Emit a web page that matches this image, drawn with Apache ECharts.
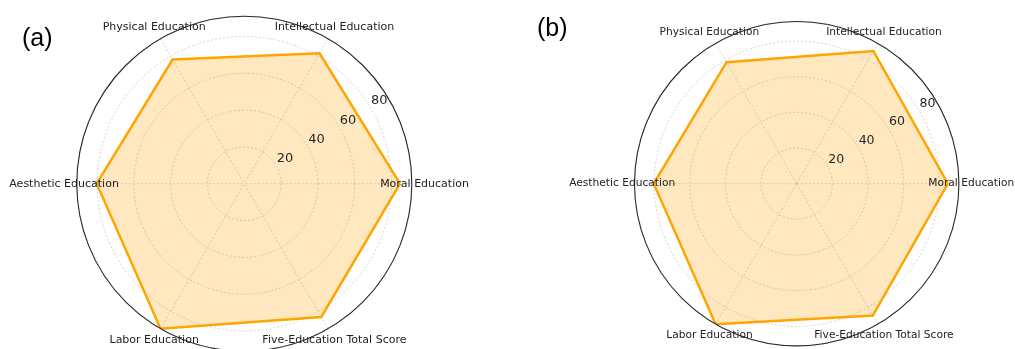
<!DOCTYPE html>
<html>
<head>
<meta charset="utf-8">
<script src="https://cdn.jsdelivr.net/npm/echarts@6/dist/echarts.min.js"></script>
<style>
  html, body { margin: 0; padding: 0; background: #fff; }
  #chart { width: 1015px; height: 349px; }
</style>
</head>
<body>
<div id="chart"></div>
<script>
// Five-education scores, one axis per dimension (counter-clockwise from the right)
const categories = [
  'Moral Education',
  'Intellectual Education',
  'Physical Education',
  'Aesthetic Education',
  'Labor Education',
  'Five-Education Total Score'
];
const scoresA = [84.6, 81.8, 77.9, 80.2, 91.0, 83.6];
const scoresB = [84.8, 86.0, 78.7, 80.2, 91.0, 85.4];
const radiusTicks = [20, 40, 60, 80];
const panelLabels = ['(a)', '(b)'];
const radiusMax = 91;

const step = 360 / categories.length;
const ORANGE = '#FFA500';
const GRID = 'rgba(150,150,150,0.5)';
const FONT = 'DejaVu Sans';

// closed polygon: [radius, angle] pairs, first point repeated at 360°
function loop(values) {
  const pts = values.map((v, i) => [v, i * step]);
  pts.push([values[0], 360]);
  return pts;
}

// one panel = a gridded polar system + a label-only polar whose radius axis sits at ~31.5°
function panel(cx, cy, r, fs) {
  const labelAngle = 31.5;
  const shift = r * 0.066;
  const rad = labelAngle * Math.PI / 180;
  return {
    polars: [
      { center: [cx, cy], radius: r },
      { center: [cx + shift * Math.cos(rad), cy - shift * Math.sin(rad)], radius: r }
    ],
    angleAxes: [
      {
        type: 'value', min: 0, max: 360, interval: step,
        startAngle: 0, clockwise: false, z: 5,
        axisLine: { show: true, lineStyle: { color: '#2a2a2a', width: 1.1 } },
        axisTick: { show: false },
        axisLabel: { show: false },
        splitLine: { show: true, lineStyle: { color: GRID, width: 0.8, type: [2, 2] } }
      },
      { type: 'value', min: 0, max: 360, startAngle: labelAngle, clockwise: false, show: false }
    ],
    radiusAxes: [
      {
        type: 'value', min: 0, max: radiusMax, interval: 20, z: 5,
        axisLine: { show: false }, axisTick: { show: false }, axisLabel: { show: false },
        splitLine: { show: true, lineStyle: { color: GRID, width: 0.8, type: [2, 2] } }
      },
      {
        type: 'value', min: 0, max: radiusMax, interval: 20, z: 6,
        axisLine: { show: false }, axisTick: { show: false }, splitLine: { show: false },
        axisLabel: {
          show: true, margin: 0, align: 'center', verticalAlign: 'middle',
          color: '#262626', fontFamily: FONT, fontSize: fs * 1.18,
          formatter: v => (radiusTicks.includes(v) ? String(v) : '')
        }
      }
    ]
  };
}

const pA = panel(244.3, 183.7, 167.5, 11);
const pB = panel(796.7, 183.7, 162.2, 10.65);

const polar = [...pA.polars, ...pB.polars];
const angleAxis = [...pA.angleAxes, ...pB.angleAxes].map((a, i) => Object.assign({ polarIndex: i }, a));
const radiusAxis = [...pA.radiusAxes, ...pB.radiusAxes].map((a, i) => Object.assign({ polarIndex: i }, a));

function scoreSeries(values, polarIndex) {
  return {
    type: 'line',
    coordinateSystem: 'polar',
    polarIndex: polarIndex,
    data: loop(values),
    showSymbol: false,
    symbol: 'none',
    animation: false,
    silent: true,
    z: 3,
    lineStyle: { color: ORANGE, width: 2.5, join: 'miter' },
    areaStyle: { color: 'rgba(255,165,0,0.25)', opacity: 1 }
  };
}

// category names centred just outside the outer ring, one per spoke
function nameSeries(polarIndex, fs) {
  const labelR = radiusMax * 1.076;
  return {
    type: 'scatter',
    coordinateSystem: 'polar',
    polarIndex: polarIndex,
    clip: false,
    symbolSize: 1,
    itemStyle: { color: '#fff', opacity: 0 },
    silent: true,
    z: 7,
    data: categories.map((c, i) => [labelR, i * step]),
    label: {
      show: true, position: 'inside', align: 'center', verticalAlign: 'middle',
      color: '#222', opacity: 1, textBorderWidth: 0, fontFamily: FONT, fontSize: fs,
      formatter: p => categories[p.dataIndex]
    }
  };
}

const chart = echarts.init(document.getElementById('chart'), null, { renderer: 'canvas' });
chart.setOption({
  animation: false,
  backgroundColor: '#fff',
  title: [
    { text: panelLabels[0], left: 17, top: 22,
      textStyle: { fontFamily: 'Liberation Sans', fontWeight: 'normal', fontSize: 25, color: '#000' } },
    { text: panelLabels[1], left: 532, top: 12,
      textStyle: { fontFamily: 'Liberation Sans', fontWeight: 'normal', fontSize: 25, color: '#000' } }
  ],
  polar: polar,
  angleAxis: angleAxis,
  radiusAxis: radiusAxis,
  series: [
    scoreSeries(scoresA, 0), scoreSeries(scoresB, 2),
    nameSeries(0, 11), nameSeries(2, 10.65)
  ]
});
</script>
</body>
</html>
